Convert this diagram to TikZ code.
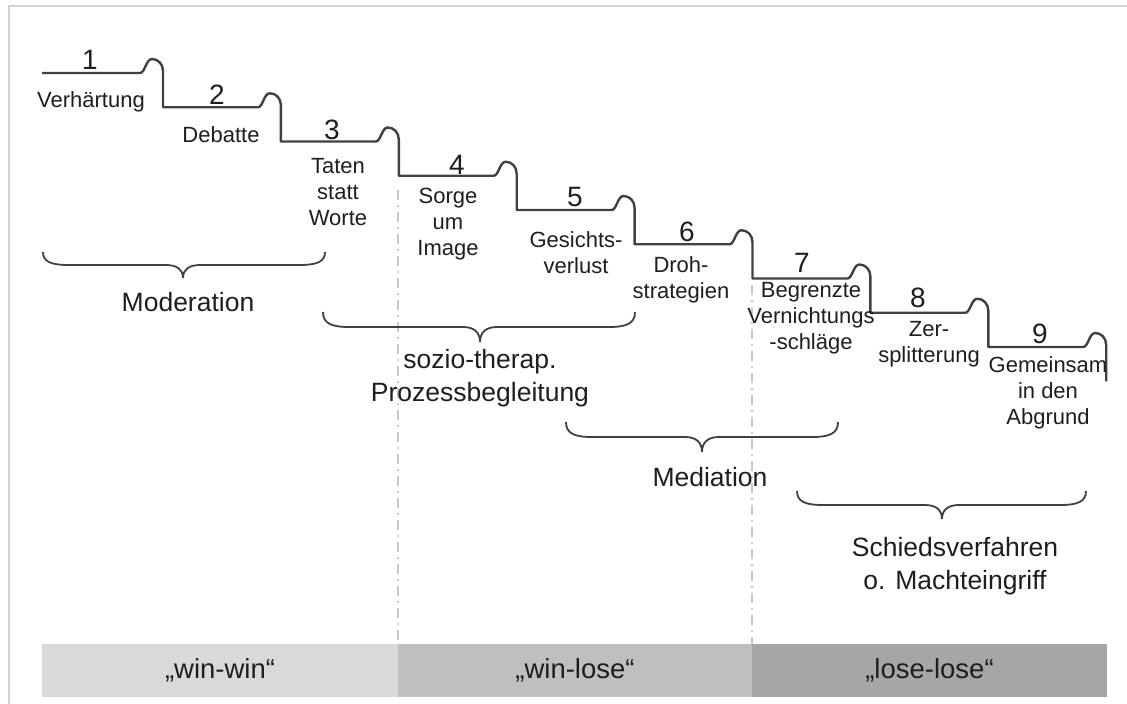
\documentclass[tikz,border=0pt]{standalone}
\usepackage{fontspec}
\setmainfont{Liberation Sans}
\definecolor{stairc}{HTML}{404040}
\definecolor{txt}{HTML}{1E1E1E}
\definecolor{sepc}{HTML}{C8C8C8}
\definecolor{borderc}{HTML}{D2D2D2}
\definecolor{cA}{HTML}{D9D9D9}
\definecolor{cB}{HTML}{BFBFBF}
\definecolor{cC}{HTML}{A6A6A6}
\newcommand\drawbrace[5]{%
  \draw[brc] (#1,#4) .. controls (#1,#4+0.75*#5) and (#1+8,#4+#5) .. (#1+26,#4+#5)
    -- (#3-17,#4+#5) .. controls (#3-6,#4+#5) and (#3,#4+1.35*#5) .. (#3,#4+2*#5)
    .. controls (#3,#4+1.35*#5) and (#3+6,#4+#5) .. (#3+17,#4+#5)
    -- (#2-26,#4+#5) .. controls (#2-8,#4+#5) and (#2,#4+0.75*#5) .. (#2,#4);}
\begin{document}
\begin{tikzpicture}[x=1pt,y=-1pt,
  stair/.style={draw=stairc,line width=2.4pt,line join=round},
  brc/.style={draw=stairc,line width=1.8pt},
  lbl/.style={align=center,font=\fontsize{22}{26}\selectfont,text=txt,inner sep=0pt},
  num/.style={font=\fontsize{28}{30}\selectfont,text=txt,inner sep=0pt},
  big/.style={align=center,font=\fontsize{26.5}{33}\selectfont,text=txt,inner sep=0pt},
  sepline/.style={draw=sepc,line width=1.6pt,dash pattern=on 10pt off 5pt on 2pt off 5pt},
  cell/.style={inner sep=0pt,minimum height=53pt,font=\fontsize{27.5}{30}\selectfont,text=txt}]
\useasboundingbox (0,0) rectangle (1127,704);
% frame
\draw[draw=borderc,line width=2pt] (1127,6) -- (9,6) -- (9,704);
% band
\node[cell,fill=cA,minimum width=356pt] (b1) at (220,670.5) {„win-win“};
\node[cell,fill=cB,minimum width=354pt] (b2) at (575,670.5) {„win-lose“};
\node[cell,fill=cC,minimum width=355pt] (b3) at (929.5,670.5) {„lose-lose“};
% separators
\coordinate (s1t) at (398,190); \coordinate (s1b) at (398,644);
\coordinate (s2t) at (752,285); \coordinate (s2b) at (752,644);
\draw[sepline] (s1t) -- (s1b);
\draw[sepline] (s2t) -- (s2b);
% stairs
\draw[stair] (42,73) foreach \k [evaluate=\k as \V using 163+117.9*(\k-1), evaluate=\k as \Y using 73+34.25*(\k-1)] in {1,...,9} {
  -- (\V-23,\Y) .. controls (\V-18,\Y) and (\V-17,\Y-14) .. (\V-11,\Y-14)
  .. controls (\V-5,\Y-14) and (\V,\Y-9) .. (\V,\Y-2) -- (\V,\Y+34.25) };
% numbers
\node[num] (n1) at (90,60) {1};
\node[num] (n2) at (217,95) {2};
\node[num] (n3) at (332,130) {3};
\node[num] (n4) at (457,165) {4};
\node[num] (n5) at (575,197) {5};
\node[num] (n6) at (687,232) {6};
\node[num] (n7) at (802,263) {7};
\node[num] (n8) at (918,298) {8};
\node[num] (n9) at (1040,334) {9};
% step labels
\node[lbl] (l1) at (91,102) {Verhärtung};
\node[lbl] (l2) at (221,135) {Debatte};
\node[lbl] (l3) at (338,192) {Taten\\statt\\Worte};
\node[lbl] (l4) at (448,224) {Sorge\\um\\Image};
\node[lbl] (l5) at (576,253) {Gesichts-\\verlust};
\node[lbl] (l6) at (681,280) {Droh-\\strategien};
\node[lbl] (l7) at (811,318) {Begrenzte\\Vernichtungs\\-schläge};
\node[lbl] (l8) at (929,344) {Zer-\\splitterung};
\node[lbl] (l9) at (1048,393) {Gemeinsam\\in den\\Abgrund};
% braces
\drawbrace{43}{325}{183}{252}{13}
\drawbrace{323}{635}{480}{312}{15}
\drawbrace{566}{838}{702}{422}{15}
\drawbrace{797}{1086}{942}{491}{14}
% method labels
\node[big] (m1) at (188,302) {Moderation};
\node[big] (m2) at (480,378) {sozio-therap.\\Prozessbegleitung};
\node[big] (m3) at (710,477) {Mediation};
\node[big] (m4) at (955,566) {Schiedsverfahren\\o. Machteingriff};
\end{tikzpicture}
\end{document}
